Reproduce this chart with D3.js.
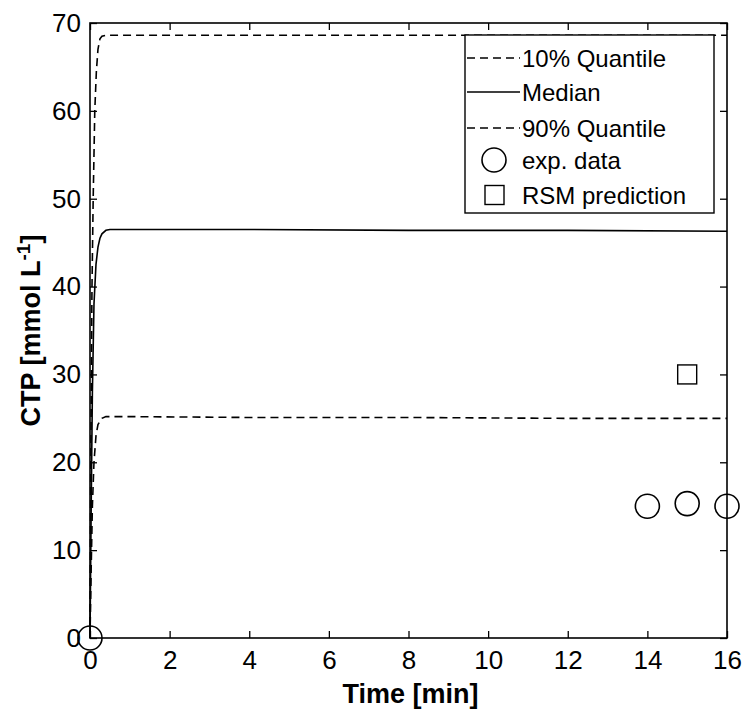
<!DOCTYPE html>
<html>
<head>
<meta charset="utf-8">
<script src="https://cdn.jsdelivr.net/npm/d3@7"></script>
<style>
  body { margin: 0; background: #fff; }
  text { font-family: "Liberation Sans", Arial, sans-serif; }
</style>
</head>
<body>
<script>
// time points (min) and CTP values (mmol/L)
var tQ90 = [0, 0.02, 0.05, 0.08, 0.12, 0.16, 0.2, 0.25, 0.3, 0.4, 0.6, 1, 4, 8, 12, 16];
var q90 = [0, 20, 40, 50, 60, 64.5, 67, 68.2, 68.5, 68.6, 68.6, 68.6, 68.6, 68.6, 68.6, 68.6];

var tMed = [0, 0.03, 0.06, 0.1, 0.15, 0.2, 0.25, 0.3, 0.4, 0.5, 0.7, 1, 2, 4, 8, 12, 16];
var med = [0, 15, 28, 38, 42.5, 44.5, 45.5, 46, 46.4, 46.5, 46.5, 46.5, 46.5, 46.5, 46.4, 46.4, 46.3];

var tQ10 = [0, 0.03, 0.06, 0.1, 0.15, 0.2, 0.3, 0.4, 0.5, 1, 4, 8, 12, 16];
var q10 = [0, 8, 15, 20, 23, 24.3, 25, 25.2, 25.2, 25.2, 25.1, 25.1, 25, 25];

var expT = [0, 14, 15, 16];
var expY = [0, 15, 15.3, 15];

var rsmT = [15];
var rsmY = [30];

var xTicks = [0, 2, 4, 6, 8, 10, 12, 14, 16];
var yTicks = [0, 10, 20, 30, 40, 50, 60, 70];

var legendLabels = ["10% Quantile", "Median", "90% Quantile", "exp. data", "RSM prediction"];

var W = 742, H = 713;
var margin = {top: 23, right: 15, bottom: 75, left: 90};
var width = W - margin.left - margin.right;
var height = H - margin.top - margin.bottom;

var svg = d3.select("body").append("svg")
    .attr("width", W)
    .attr("height", H);

var g = svg.append("g")
    .attr("transform", "translate(" + margin.left + "," + margin.top + ")");

var xScale = d3.scaleLinear().domain([0, 16]).range([0, width]);
var yScale = d3.scaleLinear().domain([0, 70]).range([height, 0]);

// axes with inward ticks
function styleAxis(sel) {
  sel.select(".domain").remove();
  sel.selectAll(".tick line").attr("stroke", "#000").attr("stroke-width", 1.3);
}

var xAxis = g.append("g")
    .attr("transform", "translate(0," + height + ")")
    .call(d3.axisBottom(xScale).tickValues(xTicks).tickSizeInner(-7).tickSizeOuter(0).tickPadding(13));
styleAxis(xAxis);
xAxis.selectAll("text").attr("font-size", 26).attr("fill", "#000");

var yAxis = g.append("g")
    .call(d3.axisLeft(yScale).tickValues(yTicks).tickSizeInner(-7).tickSizeOuter(0).tickPadding(9));
styleAxis(yAxis);
yAxis.selectAll("text").attr("font-size", 26).attr("fill", "#000");

var xTop = g.append("g")
    .call(d3.axisTop(xScale).tickValues(xTicks).tickSizeInner(-7).tickSizeOuter(0).tickFormat(""));
styleAxis(xTop);

var yRight = g.append("g")
    .attr("transform", "translate(" + width + ",0)")
    .call(d3.axisRight(yScale).tickValues(yTicks).tickSizeInner(-7).tickSizeOuter(0).tickFormat(""));
styleAxis(yRight);

// curves
var line = d3.line()
    .x(function(d) { return xScale(d[0]); })
    .y(function(d) { return yScale(d[1]); });

function pairs(t, v) { return t.map(function(d, i) { return [d, v[i]]; }); }

g.append("path").datum(pairs(tQ90, q90))
    .attr("d", line).attr("fill", "none").attr("stroke", "#000")
    .attr("stroke-width", 1.6).attr("stroke-dasharray", "8,5");

g.append("path").datum(pairs(tMed, med))
    .attr("d", line).attr("fill", "none").attr("stroke", "#000")
    .attr("stroke-width", 1.6);

g.append("path").datum(pairs(tQ10, q10))
    .attr("d", line).attr("fill", "none").attr("stroke", "#000")
    .attr("stroke-width", 1.6).attr("stroke-dasharray", "8,5");

// markers
g.selectAll("circle.exp")
    .data(pairs(expT, expY))
    .enter().append("circle")
    .attr("class", "exp")
    .attr("cx", function(d) { return xScale(d[0]); })
    .attr("cy", function(d) { return yScale(d[1]); })
    .attr("r", 12)
    .attr("fill", "none")
    .attr("stroke", "#000")
    .attr("stroke-width", 1.6);

g.selectAll("rect.rsm")
    .data(pairs(rsmT, rsmY))
    .enter().append("rect")
    .attr("class", "rsm")
    .attr("x", function(d) { return xScale(d[0]) - 9.5; })
    .attr("y", function(d) { return yScale(d[1]) - 9.5; })
    .attr("width", 19)
    .attr("height", 19)
    .attr("fill", "none")
    .attr("stroke", "#000")
    .attr("stroke-width", 1.4);

// plot frame
g.append("rect")
    .attr("width", width).attr("height", height)
    .attr("fill", "none").attr("stroke", "#000").attr("stroke-width", 1.6);

// axis titles
svg.append("text")
    .attr("x", margin.left + width / 2 + 2)
    .attr("y", 703)
    .attr("text-anchor", "middle")
    .attr("font-size", 27)
    .attr("font-weight", "bold")
    .text("Time [min]");

var yLab = svg.append("text")
    .attr("transform", "translate(40," + (margin.top + height / 2) + ") rotate(-90)")
    .attr("text-anchor", "middle")
    .attr("font-size", 27)
    .attr("font-weight", "bold");
yLab.append("tspan").text("CTP [mmol L");
yLab.append("tspan").attr("dy", -10).attr("font-size", 19).text("-1");
yLab.append("tspan").attr("dy", 10).text("]");

// legend
var leg = svg.append("g").attr("transform", "translate(465,35)");
leg.append("rect")
    .attr("width", 249).attr("height", 178)
    .attr("fill", "#fff").attr("stroke", "#000").attr("stroke-width", 1.4);

var rowY = [23, 57, 93, 125, 160];
legendLabels.forEach(function(lab, i) {
  var y = rowY[i];
  if (i === 0 || i === 2) {
    leg.append("line").attr("x1", 2).attr("x2", 55).attr("y1", y).attr("y2", y)
      .attr("stroke", "#000").attr("stroke-width", 1.6).attr("stroke-dasharray", "8,5");
  } else if (i === 1) {
    leg.append("line").attr("x1", 2).attr("x2", 55).attr("y1", y).attr("y2", y)
      .attr("stroke", "#000").attr("stroke-width", 1.6);
  } else if (i === 3) {
    leg.append("circle").attr("cx", 29).attr("cy", y).attr("r", 12)
      .attr("fill", "none").attr("stroke", "#000").attr("stroke-width", 1.6);
  } else {
    leg.append("rect").attr("x", 20).attr("y", y - 9.5).attr("width", 19).attr("height", 19)
      .attr("fill", "none").attr("stroke", "#000").attr("stroke-width", 1.4);
  }
  leg.append("text")
    .attr("x", 57)
    .attr("y", y)
    .attr("dy", "0.36em")
    .attr("font-size", 24)
    .text(lab);
});
</script>
</body>
</html>
